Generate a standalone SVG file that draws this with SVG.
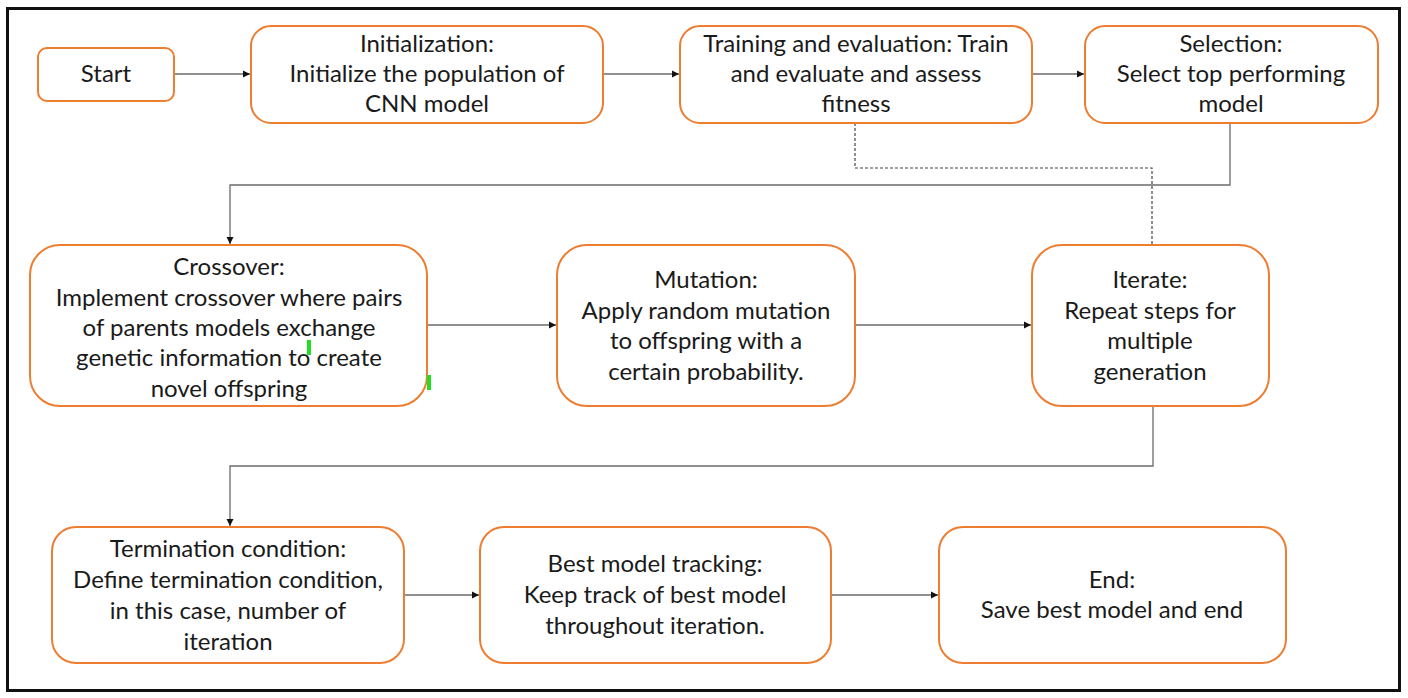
<svg xmlns="http://www.w3.org/2000/svg" width="1408" height="698" viewBox="0 0 1408 698">
<defs>
<style>
.box{fill:#fff;stroke:#ED7D31;stroke-width:2}
.t{font-family:Lato,"Liberation Sans",sans-serif;font-size:24px;fill:#1a1a1a;text-anchor:middle}
.c{fill:none;stroke:#6b6b6b;stroke-width:1.3}
.d{fill:none;stroke:#444;stroke-width:1.2;stroke-dasharray:3 2}
</style>
<marker id="ah" markerWidth="8" markerHeight="8" refX="7" refY="4" orient="auto" markerUnits="userSpaceOnUse">
<path d="M0,0.5 L7,4 L0,7.5 Z" fill="#111"/>
</marker>
</defs>
<rect x="0" y="0" width="1408" height="698" fill="#fff"/>
<rect x="7.5" y="8.5" width="1392" height="682" fill="none" stroke="#111" stroke-width="3"/>

<g id="connectors">
<path class="c" d="M174,74 H250" marker-end="url(#ah)"/>
<path class="c" d="M603,74 H679" marker-end="url(#ah)"/>
<path class="c" d="M1032,74 H1084" marker-end="url(#ah)"/>
<path class="c" d="M1230,123 V185 H230 V244" marker-end="url(#ah)"/>
<path class="d" d="M855,123 V168 H1152 V245"/>
<path class="c" d="M427,325 H556" marker-end="url(#ah)"/>
<path class="c" d="M855,325 H1031" marker-end="url(#ah)"/>
<path class="c" d="M1153,406 V466 H230 V526" marker-end="url(#ah)"/>
<path class="c" d="M404,595 H479" marker-end="url(#ah)"/>
<path class="c" d="M831,595 H938" marker-end="url(#ah)"/>
</g>

<g id="start">
<rect class="box" x="38" y="48" width="136" height="53" rx="9"/>
<text class="t" x="106" y="82">Start</text>
</g>
<g id="init">
<rect class="box" x="251" y="26" width="352" height="97" rx="20"/>
<text class="t" x="427" y="52">Initialization:</text>
<text class="t" x="427" y="82">Initialize the population of</text>
<text class="t" x="427" y="112">CNN model</text>
</g>
<g id="training">
<rect class="box" x="680" y="26" width="352" height="97" rx="20"/>
<text class="t" x="856" y="52">Training and evaluation: Train</text>
<text class="t" x="856" y="82">and evaluate and assess</text>
<text class="t" x="856" y="112">fitness</text>
</g>
<g id="selection">
<rect class="box" x="1085" y="26" width="293" height="97" rx="20"/>
<text class="t" x="1231" y="52">Selection:</text>
<text class="t" x="1231" y="82">Select top performing</text>
<text class="t" x="1231" y="112">model</text>
</g>
<g id="crossover">
<rect class="box" x="30" y="245" width="397" height="161" rx="30"/>
<text class="t" x="229" y="275">Crossover:</text>
<text class="t" x="229" y="306">Implement crossover where pairs</text>
<text class="t" x="229" y="336">of parents models exchange</text>
<text class="t" x="229" y="366">genetic information to create</text>
<text class="t" x="229" y="397">novel offspring</text>
<rect x="307" y="340" width="4" height="15" fill="#22dd22"/>
<rect x="427" y="375" width="4" height="15" fill="#22dd22"/>
</g>
<g id="mutation">
<rect class="box" x="557" y="245" width="298" height="161" rx="30"/>
<text class="t" x="706" y="288">Mutation:</text>
<text class="t" x="706" y="319">Apply random mutation</text>
<text class="t" x="706" y="349">to offspring with a</text>
<text class="t" x="706" y="380">certain probability.</text>
</g>
<g id="iterate">
<rect class="box" x="1032" y="245" width="237" height="161" rx="30"/>
<text class="t" x="1150" y="288">Iterate:</text>
<text class="t" x="1150" y="319">Repeat steps for</text>
<text class="t" x="1150" y="349">multiple</text>
<text class="t" x="1150" y="380">generation</text>
</g>
<g id="termination">
<rect class="box" x="52" y="527" width="352" height="136" rx="24"/>
<text class="t" x="228" y="557">Termination condition:</text>
<text class="t" x="228" y="588">Define termination condition,</text>
<text class="t" x="228" y="619">in this case, number of</text>
<text class="t" x="228" y="650">iteration</text>
</g>
<g id="best">
<rect class="box" x="480" y="527" width="351" height="136" rx="24"/>
<text class="t" x="655" y="572">Best model tracking:</text>
<text class="t" x="655" y="603">Keep track of best model</text>
<text class="t" x="655" y="634">throughout iteration.</text>
</g>
<g id="end">
<rect class="box" x="939" y="527" width="347" height="136" rx="24"/>
<text class="t" x="1112" y="588">End:</text>
<text class="t" x="1112" y="618">Save best model and end</text>
</g>
</svg>
